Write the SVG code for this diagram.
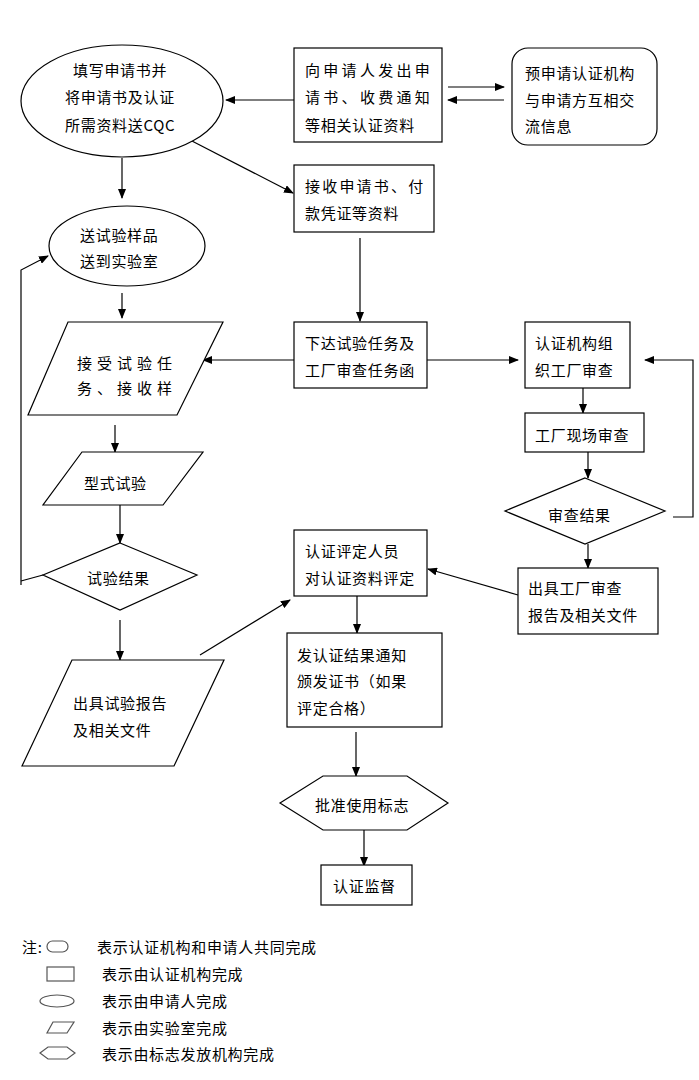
<svg xmlns="http://www.w3.org/2000/svg" width="699" height="1080" viewBox="0 0 699 1080">
<style>
.s{fill:#fff;stroke:#000;stroke-width:1.2}
.l{fill:none;stroke:#000;stroke-width:1.2}
text{font-family:"Noto Sans CJK SC","Noto Sans",sans-serif;font-size:15px;fill:#000;letter-spacing:0.7px}
.g{fill:#fff;stroke:#555;stroke-width:1.2}
</style>
<defs>
<marker id="a" markerUnits="userSpaceOnUse" markerWidth="10" markerHeight="8" refX="9" refY="4" orient="auto">
<path d="M0,0 L10,4 L0,8 z" fill="#000"/>
</marker>
</defs>
<rect width="699" height="1080" fill="#fff"/>
<g id="connectors">
<line class="l" x1="294" y1="100" x2="226" y2="100" marker-end="url(#a)"/>
<line class="l" x1="448" y1="87" x2="504" y2="87" marker-end="url(#a)"/>
<line class="l" x1="504" y1="100" x2="448" y2="100" marker-end="url(#a)"/>
<line class="l" x1="190" y1="140" x2="293" y2="193" marker-end="url(#a)"/>
<line class="l" x1="122" y1="158" x2="122" y2="198" marker-end="url(#a)"/>
<line class="l" x1="122" y1="293" x2="122" y2="318" marker-end="url(#a)"/>
<line class="l" x1="360" y1="238" x2="360" y2="321" marker-end="url(#a)"/>
<line class="l" x1="294" y1="360" x2="203" y2="360" marker-end="url(#a)"/>
<line class="l" x1="427" y1="360" x2="518" y2="360" marker-end="url(#a)"/>
<line class="l" x1="115" y1="425" x2="115" y2="452" marker-end="url(#a)"/>
<line class="l" x1="120" y1="505" x2="120" y2="543" marker-end="url(#a)"/>
<polyline class="l" points="43,575 21,581"/>
<polyline class="l" points="21,585 21,270 48,256" marker-end="url(#a)"/>
<line class="l" x1="120" y1="620" x2="120" y2="660" marker-end="url(#a)"/>
<line class="l" x1="200" y1="655" x2="290" y2="600" marker-end="url(#a)"/>
<line class="l" x1="583" y1="388" x2="583" y2="413" marker-end="url(#a)"/>
<line class="l" x1="588" y1="452" x2="588" y2="478" marker-end="url(#a)"/>
<polyline class="l" points="673,517 693,517 693,360 645,360" marker-end="url(#a)"/>
<line class="l" x1="588" y1="544" x2="588" y2="568" marker-end="url(#a)"/>
<line class="l" x1="518" y1="595" x2="428" y2="569" marker-end="url(#a)"/>
<line class="l" x1="357" y1="596" x2="357" y2="633" marker-end="url(#a)"/>
<line class="l" x1="356" y1="732" x2="356" y2="776" marker-end="url(#a)"/>
<line class="l" x1="364" y1="830" x2="364" y2="866" marker-end="url(#a)"/>
</g>
<g id="n1">
<ellipse class="s" cx="122" cy="101" rx="101" ry="56"/>
<text x="73" y="76">填写申请书并</text>
<text x="65" y="103">将申请书及认证</text>
<text x="65" y="131">所需资料送CQC</text>
</g>
<g id="n2">
<rect class="s" x="294" y="48" width="148" height="94"/>
<text x="305" y="76" style="letter-spacing:3.3px">向申请人发出申</text>
<text x="305" y="103" style="letter-spacing:3.3px">请书、收费通知</text>
<text x="305" y="131">等相关认证资料</text>
</g>
<g id="n3">
<rect class="s" x="512" y="48" width="145" height="97" rx="16"/>
<text x="525" y="79">预申请认证机构</text>
<text x="525" y="106">与申请方互相交</text>
<text x="525" y="132">流信息</text>
</g>
<g id="n4">
<rect class="s" x="294" y="165" width="140" height="67"/>
<text x="305" y="192" style="letter-spacing:2.2px">接收申请书、付</text>
<text x="305" y="219">款凭证等资料</text>
</g>
<g id="n5">
<ellipse class="s" cx="127" cy="246" rx="78" ry="40"/>
<text x="80" y="241">送试验样品</text>
<text x="80" y="267">送到实验室</text>
</g>
<g id="n6">
<polygon class="s" points="68,322 223,322 177,415 28,415"/>
<text x="77" y="369" style="letter-spacing:5px">接受试验任</text>
<text x="77" y="394" style="letter-spacing:5px">务、接收样</text>
</g>
<g id="n7">
<rect class="s" x="294" y="322" width="133" height="66"/>
<text x="305" y="349">下达试验任务及</text>
<text x="305" y="376">工厂审查任务函</text>
</g>
<g id="n8">
<rect class="s" x="525" y="322" width="105" height="66"/>
<text x="535" y="349">认证机构组</text>
<text x="535" y="376">织工厂审查</text>
</g>
<g id="n9">
<rect class="s" x="525" y="413" width="119" height="39"/>
<text x="535" y="441">工厂现场审查</text>
</g>
<g id="n10">
<polygon class="s" points="82,452 203,452 163,505 43,505"/>
<text x="84" y="489">型式试验</text>
</g>
<g id="n11">
<polygon class="s" points="585,478 665,511 585,544 505,511"/>
<text x="548" y="521">审查结果</text>
</g>
<g id="n12">
<polygon class="s" points="120,543 197,575 120,610 43,575"/>
<text x="87" y="584">试验结果</text>
</g>
<g id="n13">
<rect class="s" x="294" y="530" width="133" height="66"/>
<text x="305" y="557">认证评定人员</text>
<text x="305" y="584">对认证资料评定</text>
</g>
<g id="n14">
<rect class="s" x="518" y="568" width="140" height="66"/>
<text x="528" y="594">出具工厂审查</text>
<text x="528" y="621">报告及相关文件</text>
</g>
<g id="n15">
<polygon class="s" points="72,660 224,660 174,766 22,766"/>
<text x="73" y="709">出具试验报告</text>
<text x="73" y="736">及相关文件</text>
</g>
<g id="n16">
<rect class="s" x="287" y="633" width="155" height="94"/>
<text x="297" y="661">发认证结果通知</text>
<text x="297" y="687">颁发证书（如果</text>
<text x="297" y="714">评定合格）</text>
</g>
<g id="n17">
<polygon class="s" points="280,803 323,776 407,776 448,803 407,830 323,830"/>
<text x="315" y="811">批准使用标志</text>
</g>
<g id="n18">
<rect class="s" x="321" y="865" width="91" height="40"/>
<text x="333" y="892">认证监督</text>
</g>
<g id="legend">
<text x="22" y="953">注:</text>
<rect class="g" x="47" y="941" width="21" height="11" rx="5.5"/>
<text x="97" y="953">表示认证机构和申请人共同完成</text>
<rect class="g" x="47" y="967" width="27" height="14"/>
<text x="102" y="980">表示由认证机构完成</text>
<ellipse class="g" cx="57" cy="1001" rx="17" ry="6"/>
<text x="102" y="1007">表示由申请人完成</text>
<polygon class="g" points="53,1022 74,1022 67,1033 47,1033"/>
<text x="102" y="1034">表示由实验室完成</text>
<polygon class="g" points="40,1053 48,1047 67,1047 75,1053 67,1059 48,1059"/>
<text x="102" y="1060">表示由标志发放机构完成</text>
</g>
</svg>
